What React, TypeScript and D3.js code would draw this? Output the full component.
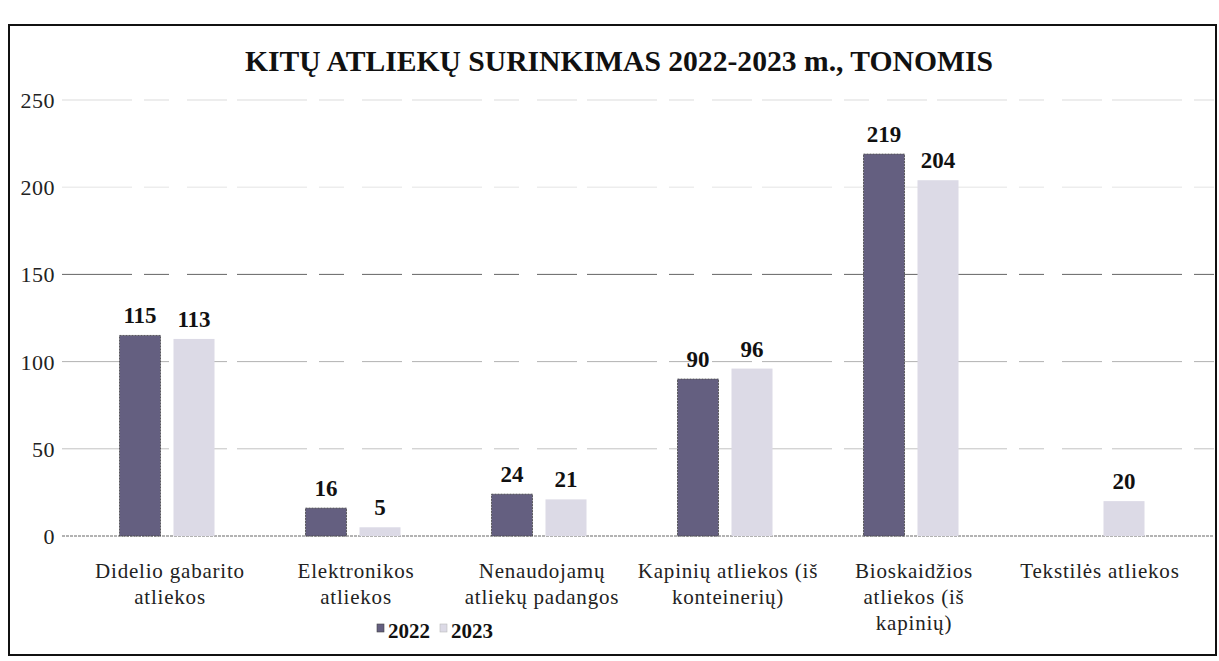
import React from "react";
import * as d3 from "d3";

const categories: string[][] = [
  ["Didelio gabarito", "atliekos"],
  ["Elektronikos", "atliekos"],
  ["Nenaudojamų", "atliekų padangos"],
  ["Kapinių atliekos (iš", "konteinerių)"],
  ["Bioskaidžios", "atliekos (iš", "kapinių)"],
  ["Tekstilės atliekos"],
];
const series = ["2022", "2023"];
const values2022: (number | null)[] = [115, 16, 24, 90, 219, null];
const values2023: (number | null)[] = [113, 5, 21, 96, 204, 20];
const yTicks = [0, 50, 100, 150, 200, 250];
const title = "KITŲ ATLIEKŲ SURINKIMAS 2022-2023 m., TONOMIS";

const colors = ["#645f80", "#dcdae6"];
const fontStyle = { fontFamily: "'Liberation Serif', 'Times New Roman', Times, serif" };
const gridOpacity: Record<number, number> = { 50: 0.35, 100: 0.45, 150: 0.9, 200: 0.15, 250: 0.2 };

export default function App() {
  const W = 1219, H = 661;
  const x = d3.scaleBand<number>().domain(d3.range(categories.length)).range([74, 1190]);
  const y = d3.scaleLinear().domain([0, 250]).range([536, 100]);
  const barW = 41, gap = 13;
  const data = [values2022, values2023];

  return (
    <svg width={W} height={H} style={{ position: "absolute", left: 0, top: 0, background: "#fff", ...fontStyle }}>
      <rect x={9} y={25} width={1207} height={630} fill="none" stroke="#111" strokeWidth={2} />
      <text x={619} y={71} textAnchor="middle" style={fontStyle} fontWeight="bold" fontSize={30}
        textLength={748} lengthAdjust="spacingAndGlyphs" fill="#111">{title}</text>
      {yTicks.map((t) => (
        <g key={t}>
          {t > 0 && (
            <line x1={62} x2={1214} y1={y(t)} y2={y(t)} stroke="#555" strokeWidth={1}
              strokeDasharray="70 12 25 18 40 10" opacity={gridOpacity[t]} />
          )}
          <text x={55} y={y(t) + 8} textAnchor="end" style={{ ...fontStyle, letterSpacing: 0.5 }} fontSize={22} fill="#222">{t}</text>
        </g>
      ))}
      <line x1={62} x2={1214} y1={y(0)} y2={y(0)} stroke="#666" strokeWidth={1} strokeDasharray="3 1" />
      {data.map((vals, si) =>
        vals.map((v, ci) => {
          if (v == null) return null;
          const cx = (x(ci) as number) + x.bandwidth() / 2;
          const bx = si === 0 ? cx - gap / 2 - barW : cx + gap / 2;
          return (
            <g key={`${si}-${ci}`}>
              <rect x={bx} y={y(v)} width={barW} height={y(0) - y(v)} fill={colors[si]}
                stroke={si === 0 ? "#444" : "none"} strokeWidth={0.8} strokeDasharray="2 1" />
              <text x={bx + barW / 2} y={y(v) - 12} textAnchor="middle" style={fontStyle}
                fontWeight="bold" fontSize={23} fill="#111">{v}</text>
            </g>
          );
        })
      )}
      {categories.map((lines, ci) => {
        const cx = (x(ci) as number) + x.bandwidth() / 2 + 3;
        return (
          <text key={ci} textAnchor="middle" style={{ ...fontStyle, letterSpacing: 0.8 }} fontSize={21} fill="#222">
            {lines.map((l, li) => (
              <tspan key={li} x={cx} y={578 + li * 26}>{l}</tspan>
            ))}
          </text>
        );
      })}
      <g>
        {series.map((s, i) => {
          const lx = 377 + i * 63;
          return (
            <g key={s}>
              <rect x={lx} y={624} width={7} height={8} fill={colors[i]} stroke={i === 0 ? "#444" : "#bbb"} strokeWidth={0.6} />
              <text x={lx + 11} y={638} style={fontStyle} fontWeight="bold" fontSize={21} fill="#111">{s}</text>
            </g>
          );
        })}
      </g>
    </svg>
  );
}
